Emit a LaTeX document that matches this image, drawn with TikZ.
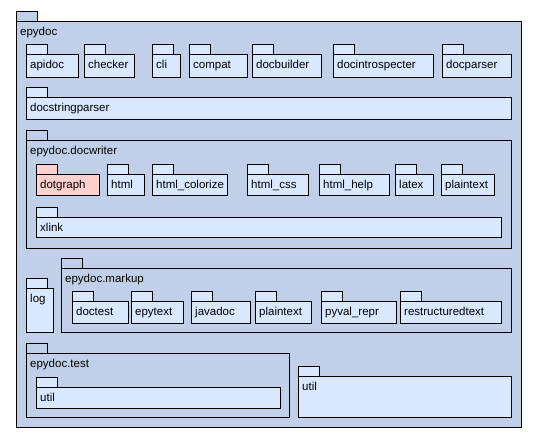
\documentclass[tikz,border=0pt]{standalone}
\usepackage{fontspec}
\setmainfont{Liberation Sans}
\definecolor{grpblue}{HTML}{C0D0E8}
\definecolor{leafblue}{HTML}{D8E8FF}
\definecolor{hilitered}{HTML}{FFD0D0}
\tikzset{
  grouppkg/.style={draw=black, fill=grpblue, line width=1pt},
  leafpkg/.style={draw=black, fill=leafblue, line width=1pt},
  hilitepkg/.style={draw=black, fill=hilitered, line width=1pt},
  pkgbody/.style={anchor=north west, inner sep=0pt, outer sep=0pt},
  pkglabel/.style={anchor=base west, inner sep=0pt, font=\fontsize{11.5}{13}\selectfont}
}
% [style]{name}{left}{body top}{right}{bottom}{label}
\newcommand{\pkg}[7][leafpkg]{%
  \draw[#1] (#3,#4-10) rectangle (#3+21,#4);
  \node[#1, pkgbody, minimum width={(#5-#3)*1pt}, minimum height={(#6-#4)*1pt}] (#2) at (#3,#4) {};
  \node[pkglabel] (#2-txt) at ([shift={(4pt,-14pt)}]#2.north west) {#7};
}

\begin{document}
\begin{tikzpicture}[x=1pt, y=-1pt]
  \fill[white] (0,0) rectangle (536,437);
  \useasboundingbox (0,0) rectangle (536,437);
  % top package
  \pkg[grouppkg]{epydoc}{16}{21}{521}{427}{epydoc}
  \foreach \nm/\txt/\xa/\xb in {apidoc/apidoc/26/78, checker/checker/84/134, cli/cli/152/180,
      compat/compat/189/247, docbuilder/docbuilder/252/321,
      docintro/docintrospecter/333/433, docparser/docparser/442/511}
    {\pkg{\nm}{\xa}{54}{\xb}{77}{\txt}}
  \pkg{docstring}{26}{97}{511}{119}{docstringparser}
  % docwriter
  \pkg[grouppkg]{docwriter}{26}{140}{511}{248}{epydoc.docwriter}
  \pkg[hilitepkg]{dotgraph}{36}{174}{99}{195}{dotgraph}
  \foreach \nm/\txt/\xa/\xb in {html/html/107/144, htmlcolorize/html\_colorize/152/227,
      htmlcss/html\_css/247/308, htmlhelp/html\_help/319/389,
      latex/latex/395/433, plainw/plaintext/441/494}
    {\pkg{\nm}{\xa}{174}{\xb}{195}{\txt}}
  \pkg{xlink}{36}{217}{501}{237}{xlink}
  % log + markup
  \pkg{log}{26}{288}{53}{332}{log}
  \pkg[grouppkg]{markup}{61}{268}{511}{332}{epydoc.markup}
  \foreach \nm/\txt/\xa/\xb in {doctest/doctest/72/128, epytext/epytext/131/183,
      javadoc/javadoc/191/250, plainm/plaintext/255/311,
      pyvalrepr/pyval\_repr/321/396, rst/restructuredtext/400/501}
    {\pkg{\nm}{\xa}{301}{\xb}{323}{\txt}}
  % test + util
  \pkg[grouppkg]{test}{26}{353}{289}{417}{epydoc.test}
  \pkg{testutil}{36}{387}{280}{408}{util}
  \pkg{util}{298}{376}{511}{417}{util}
\end{tikzpicture}
\end{document}
